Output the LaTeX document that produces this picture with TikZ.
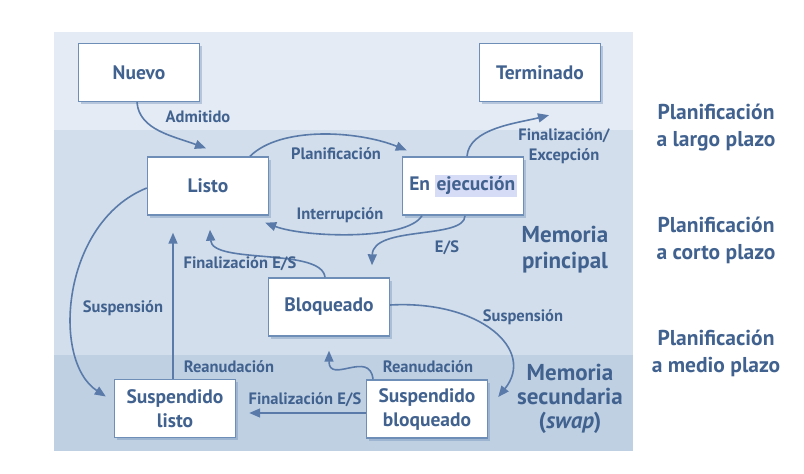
\documentclass[tikz,border=0pt]{standalone}
\usepackage{fontspec}
\setmainfont{PT Sans}
\usetikzlibrary{arrows.meta,shadows,calc}
\definecolor{bgtop}{HTML}{E4EBF4}
\definecolor{bgmid}{HTML}{D2DEEB}
\definecolor{bgbot}{HTML}{BFD0E3}
\definecolor{txt}{HTML}{41628F}
\definecolor{ln}{HTML}{5A7BAA}
\definecolor{bd}{HTML}{6E8EB8}
\definecolor{hl}{HTML}{D6DBF6}
\begin{document}
\begin{tikzpicture}[x=1pt,y=-1pt,
  state/.style={draw=bd,line width=1.4pt,fill=white,minimum width=121pt,minimum height=58pt,
     align=center,font=\fontsize{19.5}{24}\selectfont\bfseries,text=txt,inner sep=2pt,
     drop shadow={opacity=0.4,shadow xshift=2.5pt,shadow yshift=-2.5pt,fill=bd}},
  arr/.style={draw=ln,line width=1.6pt,-{Triangle[length=11pt,width=9pt]}},
  lbl/.style={font=\fontsize{16.5}{20}\selectfont\bfseries,text=txt,align=center,inner sep=0pt},
  mem/.style={font=\fontsize{23}{26}\selectfont\bfseries,text=txt,align=center,inner sep=0pt},
  side/.style={font=\fontsize{21.5}{27}\selectfont\bfseries,text=txt,align=center,inner sep=0pt}]
\useasboundingbox (0,0) rectangle (804,474);
\fill[white] (0,0) rectangle (804,474);
% bands
\fill[bgtop] (54,32) rectangle (633,130);
\fill[bgmid] (54,130) rectangle (633,355);
\fill[bgbot] (54,355) rectangle (633,451);
% states
\node[state] (Nuevo) at (139,72.5) {Nuevo};
\node[state] (Term) at (540,72.5) {Terminado};
\node[state] (Listo) at (208,186) {Listo};
\node[state] (Ejec) at (463,186) {En {\setlength\fboxsep{1.5pt}\colorbox{hl}{ejecución}}};
\node[state] (Bloq) at (329,307) {Bloqueado};
\node[state] (SL) at (175,408.5) {Suspendido\\listo};
\node[state] (SB) at (427,409) {Suspendido\\bloqueado};
% connectors
\draw[arr] ($(Nuevo.south)+(-2,0)$) .. controls +(2,28) and +(-32,-12) .. ($(Listo.north)+(-2,-8)$);
\draw[arr] ($(Listo.north)+(42,0)$) .. controls +(30,-30) and +(-50,-20) .. ($(Ejec.north west)+(5,-6)$);
\draw[arr] ($(Ejec.south)+(-41,0)$) .. controls +(-15,25) and +(40,15) .. ($(Listo.south east)+(-4,7)$);
\draw[arr] ($(Ejec.south)+(2,0)$) .. controls +(0,24) and +(1,-40) .. ($(Bloq.north)+(43,-12)$);
\draw[arr] ($(Ejec.north)+(4,0)$) .. controls +(2,-28) and +(-32,8) .. ($(Term.south)+(9,13)$);
\draw[arr] ($(Bloq.north)+(-4,0)$) .. controls +(-3,-30) and +(2,35) .. ($(Listo.south)+(2,14)$);
\draw[arr] ($(Listo.west)+(0,2)$) .. controls +(-85,34) and +(-55,-36) .. ($(SL.west)+(-8,-12)$);
\draw[arr] ($(SL.north)+(-2,0)$) -- ($(Listo.south)+(-35,17)$);
\draw[arr] ($(Bloq.east)+(0,-2)$) .. controls +(90,-5) and +(38,-47) .. ($(SB.east)+(10,-12)$);
\draw[arr] ($(SB.north)+(-54,0)$) .. controls +(-3,-30) and +(0,34) .. ($(Bloq.south)+(0,14)$);
\draw[arr] ($(SB.west)+(0,4)$) -- ($(SL.east)+(13,4.5)$);
% connector labels
\node[lbl] (lAdm) at (198,117) {Admitido};
\node[lbl] (lPlan) at (336,154) {Planificación};
\node[lbl] (lInt) at (340,215) {Interrupción};
\node[lbl] (lES) at (447,248) {E/S};
\node[lbl] (lFin) at (564,146) {Finalización/\\Excepción};
\node[lbl] (lFES1) at (240,264) {Finalización E/S};
\node[lbl] (lSus1) at (123,308) {Suspensión};
\node[lbl] (lRea1) at (229,367) {Reanudación};
\node[lbl] (lSus2) at (523,317) {Suspensión};
\node[lbl] (lRea2) at (428,367) {Reanudación};
\node[lbl] (lFES2) at (305,400) {Finalización E/S};
% memory labels
\node[mem] (mPri) at (565,250) {Memoria\\principal};
\node[mem,font=\fontsize{23}{24}\selectfont\bfseries] (mSec) at (570,399) {Memoria\\secundaria\\(\textit{swap})};
% side labels
\node[side] (s1) at (716,128) {Planificación\\a largo plazo};
\node[side] (s2) at (716,240) {Planificación\\a corto plazo};
\node[side] (s3) at (716,353) {Planificación\\a medio plazo};
\end{tikzpicture}
\end{document}
